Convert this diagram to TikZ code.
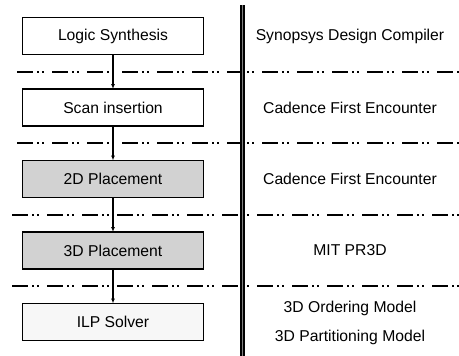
\documentclass[tikz,border=0pt]{standalone}
\usepackage{fontspec}
\setmainfont{Liberation Sans}
\usepackage{tikz}
\usetikzlibrary{positioning,arrows.meta,calc}
\colorlet{stagegray}{gray!35!white}
\colorlet{solvergray}{gray!6!white}
\tikzstyle{signal}=[arrows={-Latex[length=5pt,width=4pt]},draw=black,line width=1.4pt]
\tikzstyle{block}=[draw=black,line width=1.5pt]
\tikzstyle{stage}=[style=block, fill=white, inner sep=0pt, outer sep=0pt,
    font=\fontsize{15.7}{19}\selectfont, text centered,
    minimum width=181pt, minimum height=37pt]
\tikzstyle{stagedim}=[style=stage, fill=stagegray]
\tikzstyle{stagesolver}=[style=stage, fill=solvergray]
\tikzstyle{toolname}=[font=\fontsize{15.7}{19}\selectfont, inner sep=0pt]
\tikzstyle{separator}=[draw=black, line width=1.6pt,
    dash pattern=on 16pt off 4pt on 2pt off 3pt on 2pt off 8pt]
\tikzstyle{divider}=[draw=black, line width=1.4pt, double=gray, double distance=1.4pt]

\begin{document}
\begin{tikzpicture}

    \def\stepdist{71.5pt}
    \def\flowx{113pt}
    \def\toolx{350pt}

    \useasboundingbox (0,0) rectangle (459pt,-356pt);

    % flow stages
    \node[stage] (synth) at (\flowx,-36pt) {Logic Synthesis};
    \node[stage] (scan) at ($(synth) + (0,-\stepdist)$) {Scan insertion};
    \node[stagedim] (place2d) at ($(scan) + (0,-\stepdist)$) {2D Placement};
    \node[stagedim] (place3d) at ($(place2d) + (0,-\stepdist)$) {3D Placement};
    \node[stagesolver] (ilp) at ($(place3d) + (0,-\stepdist)$) {ILP Solver};

    % tools
    \node[toolname] (dc) at (\toolx,-36pt) {Synopsys Design Compiler};
    \node[toolname] (fe1) at (\toolx,-107.5pt) {Cadence First Encounter};
    \node[toolname] (fe2) at (\toolx,-179pt) {Cadence First Encounter};
    \node[toolname] (pr3d) at (\toolx,-250.5pt) {MIT PR3D};
    \node[toolname] (order) at (\toolx,-308.5pt) {3D Ordering Model};
    \node[toolname] (part) at (\toolx,-337.5pt) {3D Partitioning Model};

    % separators
    \foreach \y/\x in {71.75/17,143.25/17,214.75/12,286.25/12}
        \draw[separator] (\x pt,-\y pt) -- (459pt,-\y pt);

    % divider
    \coordinate (divtop) at (242.5pt,-5pt);
    \coordinate (divbot) at (242.5pt,-356pt);
    \draw[divider] (divtop) -- (divbot);

    % arrows
    \draw[signal] (synth) -- (scan);
    \draw[signal] (scan) -- (place2d);
    \draw[signal] (place2d) -- (place3d);
    \draw[signal] (place3d) -- (ilp);

\end{tikzpicture}
\end{document}
